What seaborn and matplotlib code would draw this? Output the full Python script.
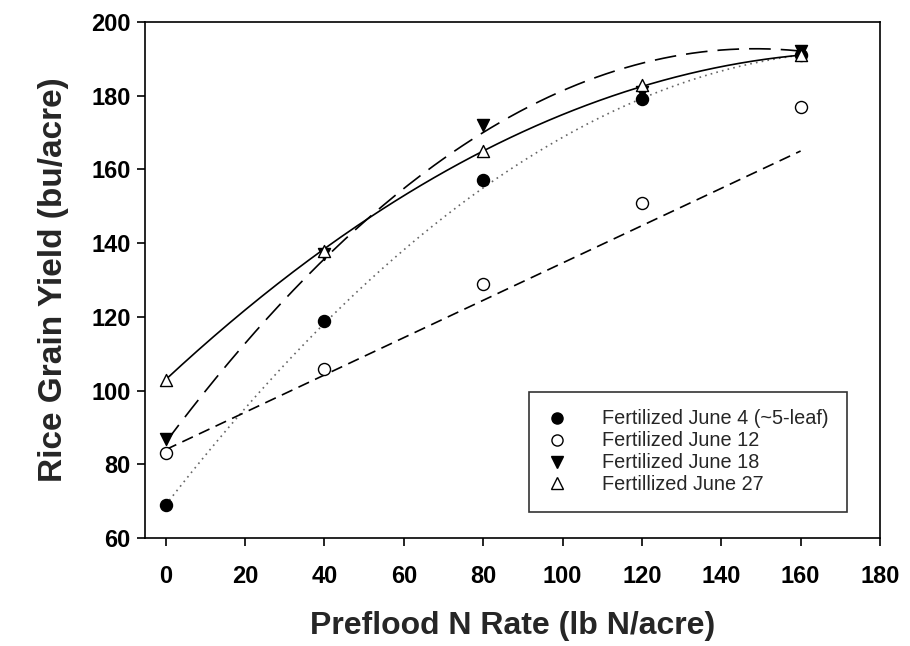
import numpy as np
import pandas as pd
import matplotlib
matplotlib.use("Agg")
import matplotlib.pyplot as plt
from matplotlib.lines import Line2D
import seaborn as sns

# N rates and yields
n_rate = [0, 40, 80, 120, 160]
june4 = [69, 119, 157, 179, 191]
june12 = [83, 106, 129, 151, 177]
june18 = [87, 137, 172, 181, 192]
june27 = [103, 138, 165, 183, 191]

labels = ["Fertilized June 4 (~5-leaf)", "Fertilized June 12",
          "Fertilized June 18", "Fertillized June 27"]

# fitted curve coefficients (intercept, linear, quadratic)
fit_june4 = [69, 1.3875, -0.003906]
fit_june12 = [84, 0.50625, 0.0]
fit_june18 = [86, 1.4375, -0.00484]
fit_june27 = [103, 1.0, -0.0028125]

sns.set_style("ticks")
plt.rcParams["font.family"] = ["Liberation Sans", "DejaVu Sans"]

fig = plt.figure(figsize=(9.1, 6.46), dpi=100)
ax = fig.add_axes([0.159, 0.167, 0.808, 0.799])

xs = np.linspace(0, 160, 200)
line_styles = [(0, (1, 2.5)), (0, (7, 4)), (0, (13, 6)), "-"]
line_colors = ["#666666", "black", "black", "black"]
for coef, ls, lc in zip([fit_june4, fit_june12, fit_june18, fit_june27],
                        line_styles, line_colors):
    ys = coef[0] + coef[1] * xs + coef[2] * xs ** 2
    sns.lineplot(x=xs, y=ys, ax=ax, color=lc, linewidth=1.2, linestyle=ls, zorder=2)

markers = ["o", "o", "v", "^"]
faces = ["black", "white", "black", "white"]
handles = []
for yv, m, fc, lab in zip([june4, june12, june18, june27], markers, faces, labels):
    sns.scatterplot(x=n_rate, y=yv, ax=ax, marker=m, s=75, color=fc,
                    edgecolor="black", linewidth=1.0, zorder=3)
    handles.append(Line2D([], [], marker=m, linestyle="none", markersize=8,
                          markerfacecolor=fc, markeredgecolor="black",
                          markeredgewidth=1.0, label=lab))

ax.set_xlim(-5.3, 180)
ax.set_ylim(60, 200)
ax.set_xticks(range(0, 181, 20))
ax.set_yticks(range(60, 201, 20))
for side in ["top", "right", "left", "bottom"]:
    ax.spines[side].set_visible(True)
    ax.spines[side].set_linewidth(1.2)
    ax.spines[side].set_color("black")
ax.tick_params(axis="both", direction="out", length=6, width=1.2, colors="black",
               labelsize=17)
ax.tick_params(axis="x", pad=13)
ax.tick_params(axis="y", pad=4)
for t in ax.get_xticklabels() + ax.get_yticklabels():
    t.set_fontweight("bold")

ax.set_xlabel("Preflood N Rate (lb N/acre)", fontsize=23, fontweight="bold", labelpad=17)
ax.set_ylabel("Rice Grain Yield (bu/acre)", fontsize=24, fontweight="bold", labelpad=16)

leg = ax.legend(handles=handles, loc="lower right", bbox_to_anchor=(0.955, 0.05),
                fontsize=14.3, frameon=True, fancybox=False, edgecolor="black",
                borderpad=0.9, handlelength=1.0, handletextpad=1.8,
                labelspacing=0.15, borderaxespad=0)
leg.get_frame().set_linewidth(1.2)

fig.savefig("out.png", dpi=100)
